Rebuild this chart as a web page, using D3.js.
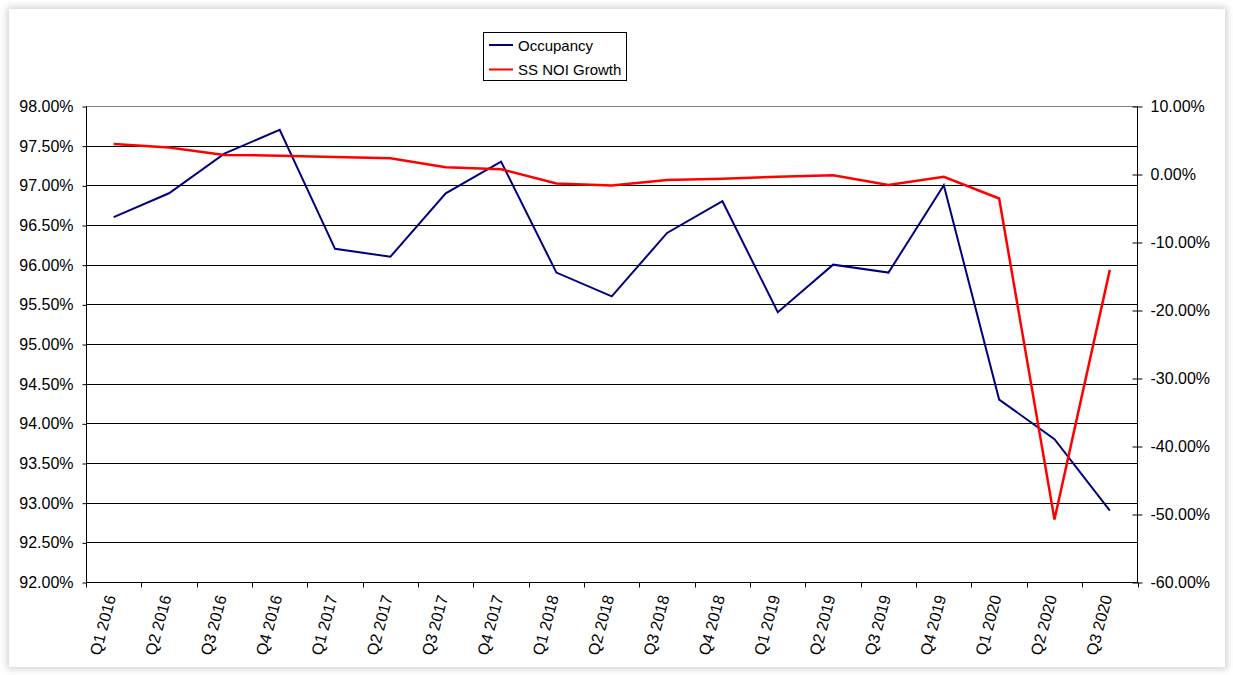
<!DOCTYPE html>
<html><head><meta charset="utf-8">
<script src="https://cdn.jsdelivr.net/npm/d3@7"></script>
<style>
html,body{margin:0;padding:0;background:#fff;}
#frame{position:absolute;left:9px;top:9px;width:1216px;height:658px;background:#fff;box-shadow:0 0 7px 2px rgba(0,0,0,0.18);}
svg{position:absolute;left:0;top:0;}
text{font-family:"Liberation Sans",Arial,sans-serif;fill:#000;}
</style></head>
<body>
<div id="frame"></div>
<svg id="c" width="1233" height="675"></svg>
<script>
const categories = ["Q1 2016","Q2 2016","Q3 2016","Q4 2016","Q1 2017","Q2 2017","Q3 2017","Q4 2017","Q1 2018","Q2 2018","Q3 2018","Q4 2018","Q1 2019","Q2 2019","Q3 2019","Q4 2019","Q1 2020","Q2 2020","Q3 2020"];
const occupancy = [96.6,96.9,97.4,97.7,96.2,96.1,96.9,97.3,95.9,95.6,96.4,96.8,95.4,96.0,95.9,97.0,94.3,93.8,92.9];
const noiGrowth = [4.4,3.9,2.8,2.7,2.5,2.3,1.0,0.7,-1.4,-1.7,-0.9,-0.7,-0.4,-0.2,-1.6,-0.4,-3.6,-50.8,-14.1];
const leftTicks = [92,92.5,93,93.5,94,94.5,95,95.5,96,96.5,97,97.5,98];
const rightTicks = [-60,-50,-40,-30,-20,-10,0,10];
const seriesNames = ["Occupancy","SS NOI Growth"];
const seriesColors = ["#000080","#ff0000"];

const svg = d3.select("#c");
const L = 86, R = 1137.5, T = 106, B = 582;

const x = d3.scaleBand().domain(categories).range([L, R]).padding(0);
const yL = d3.scaleLinear().domain([92, 98]).range([B, T]);
const yR = d3.scaleLinear().domain([-60, 10]).range([B, T]);

// gridlines
svg.append("g").selectAll("line").data(leftTicks).join("line")
  .attr("x1", L).attr("x2", R)
  .attr("y1", d => Math.round(yL(d)) + 0.5).attr("y2", d => Math.round(yL(d)) + 0.5)
  .attr("stroke", d => d === 98 ? "#808080" : "#000").attr("stroke-width", 1)
  .attr("shape-rendering", "crispEdges");

// left axis
const axL = d3.axisLeft(yL).tickValues(leftTicks).tickFormat(d => d.toFixed(2) + "%").tickSize(4).tickPadding(9);
const gL = svg.append("g").attr("transform", `translate(${L + 0.5},0.5)`).call(axL);
gL.select(".domain").attr("stroke", "#000").attr("d", `M0,${T}V${B}`);
gL.selectAll(".tick line").attr("stroke", "#000");
gL.selectAll("text").attr("font-size", 16).attr("font-family", "Liberation Sans, Arial, sans-serif").attr("fill", "#000");

// right axis (cross ticks)
const axR = d3.axisRight(yR).tickValues(rightTicks).tickFormat(d => d.toFixed(2) + "%").tickSize(5).tickPadding(8);
const gR = svg.append("g").attr("transform", `translate(${R},0.5)`).call(axR);
gR.select(".domain").attr("stroke", "#000").attr("d", `M0,${T}V${B}`);
gR.selectAll(".tick line").attr("stroke", "#000").attr("x1", -5).attr("x2", 5);
gR.selectAll("text").attr("font-size", 16).attr("font-family", "Liberation Sans, Arial, sans-serif").attr("fill", "#000");

// bottom axis
const gB = svg.append("g").attr("transform", `translate(0,${B + 0.5})`);
gB.append("line").attr("x1", L).attr("x2", R + 0.5).attr("stroke", "#000");
const boundaries = categories.map(c => x(c)).concat([R]);
gB.selectAll("line.tk").data(boundaries).join("line").attr("class", "tk")
  .attr("x1", d => Math.round(d) + 0.5).attr("x2", d => Math.round(d) + 0.5)
  .attr("y1", 0).attr("y2", 5).attr("stroke", "#000");
svg.append("g").selectAll("text").data(categories).join("text")
  .attr("transform", d => `translate(${x(d) + x.bandwidth() / 2 + 2.5},${B + 15}) rotate(-75)`)
  .attr("text-anchor", "end").attr("font-size", 16).text(d => d);

// lines
const lineL = d3.line().x((d, i) => x(categories[i]) + x.bandwidth() / 2).y(d => yL(d));
const lineR = d3.line().x((d, i) => x(categories[i]) + x.bandwidth() / 2).y(d => yR(d));
svg.append("path").datum(occupancy).attr("d", lineL).attr("fill", "none")
  .attr("stroke", seriesColors[0]).attr("stroke-width", 2).attr("stroke-linejoin", "miter");
svg.append("path").datum(noiGrowth).attr("d", lineR).attr("fill", "none")
  .attr("stroke", seriesColors[1]).attr("stroke-width", 2.5).attr("stroke-linejoin", "miter");

// legend
const lg = svg.append("g");
lg.append("rect").attr("x", 483.5).attr("y", 32.5).attr("width", 143).attr("height", 48)
  .attr("fill", "#fff").attr("stroke", "#000").attr("stroke-width", 1);
seriesNames.forEach((n, i) => {
  const yy = 45 + i * 24.5;
  lg.append("line").attr("x1", 489).attr("x2", 513).attr("y1", yy).attr("y2", yy)
    .attr("stroke", seriesColors[i]).attr("stroke-width", 2);
  lg.append("text").attr("x", 518).attr("y", yy + 5.5).attr("font-size", 15).text(n);
});
</script>
</body></html>
